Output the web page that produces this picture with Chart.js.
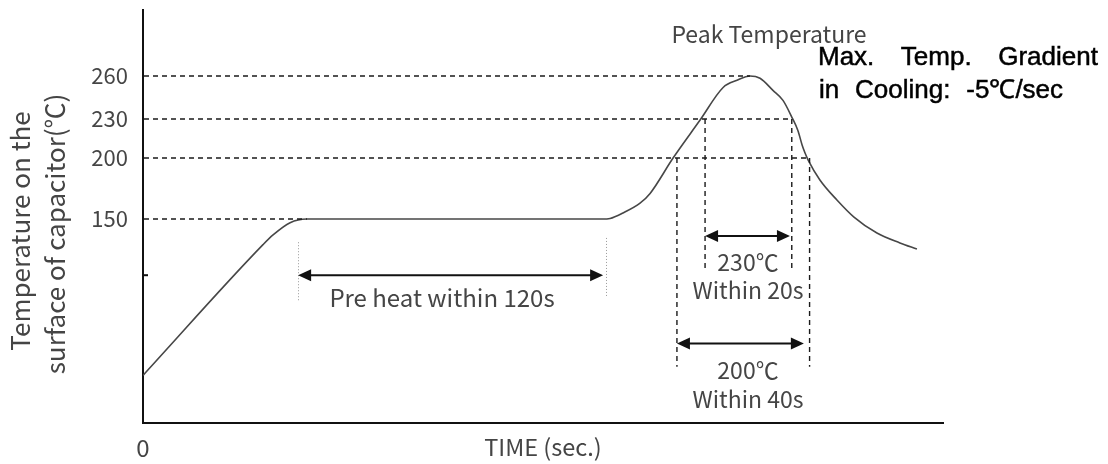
<!DOCTYPE html>
<html>
<head>
<meta charset="utf-8">
<script src="https://cdn.jsdelivr.net/npm/chart.js@4.4.1/dist/chart.umd.min.js"></script>
<style>
html,body{margin:0;padding:0;background:#fff;overflow:hidden}
canvas{display:block}
</style>
</head>
<body>
<canvas id="c" width="1108" height="464"></canvas>
<script>
// ---- reflow profile (time in s, temperature in °C) ----
const times = [0, 46.5, 50.4, 57, 63.5, 178, 181, 186, 192.6, 196.5, 205.4, 215.8, 224.8, 230.2, 235.2, 239.1, 244.1, 248.0, 251.5, 253.8, 255.4, 256.5, 257.7, 262.3, 268.9, 275.5, 284.4, 293.3, 299.9];
const temps = [22, 129, 137, 147, 150, 150, 150.5, 155, 163, 171, 200, 229, 252, 257, 260, 258.4, 250, 243, 231, 221, 210, 204, 198.5, 182, 165.6, 151.6, 138.5, 130.4, 125.4];

// ---- axis ticks ----
const yTickValues = [150, 200, 230, 260];
const xTickValues = [0];
const minorTickTemp = [104];

// ---- axis break (the temperature axis of the picture is not uniform) ----
const axisBreakValues = [-17, 150, 200, 230, 260, 306];
const axisBreakFractions = [0, 0.4939, 0.6416, 0.7361, 0.8402, 1];

// ---- reference levels: dashed lines from the axis to the curve ----
const refTemps = [150, 200, 230, 260];
const refEndTimes = [63.5, 258.3, 251.4, 235.2];

// ---- time windows (vertical dashed lines) ----
const win230Times = [217.8, 251.4];
const win230Bottom = 108;
const win200Times = [206.9, 258.3];
const win200Bottom = 29;

// ---- arrows: preheat, 230 window, 200 window ----
const arrowFrom = [60.1, 217.8, 206.9];
const arrowTo = [178.3, 250.7, 256.1];
const arrowTemp = [104, 136, 48];

// ---- dotted preheat limits ----
const preheatTimes = [60.1, 179.4];
const preheatTop = [131, 134.5];
const preheatBottom = [82, 86];

// ---- texts ----
const yTitleLines = ['Temperature on the', 'surface of capacitor(℃)'];
const xTitle = 'TIME (sec.)';
const peakLabel = 'Peak Temperature';
const preheatLabel = 'Pre heat within 120s';
const win230Labels = ['230℃', 'Within 20s'];
const win200Labels = ['200℃', 'Within 40s'];
const noteLines = ['Max. Temp. Gradient', 'in Cooling: -5℃/sec'];

const FONT = "'Noto Sans CJK KR', 'Noto Sans', sans-serif";
const TXT = '#454545';

function valueToDecimal(v) {
  const a = axisBreakValues, f = axisBreakFractions;
  let i = 0;
  if (v <= a[0]) i = 0;
  else if (v >= a[a.length - 1]) i = a.length - 2;
  else { while (i < a.length - 2 && v > a[i + 1]) i++; }
  return f[i] + (v - a[i]) / (a[i + 1] - a[i]) * (f[i + 1] - f[i]);
}
function decimalToValue(d) {
  const a = axisBreakValues, f = axisBreakFractions;
  let i = 0;
  while (i < f.length - 2 && d > f[i + 1]) i++;
  return a[i] + (d - f[i]) / (f[i + 1] - f[i]) * (a[i + 1] - a[i]);
}

class PiecewiseScale extends Chart.LinearScale {
  getPixelForValue(value) { return this.getPixelForDecimal(valueToDecimal(value)); }
  getValueForPixel(pixel) { return decimalToValue(this.getDecimalForPixel(pixel)); }
}
PiecewiseScale.id = 'piecewise';
PiecewiseScale.defaults = Chart.LinearScale.defaults;
Chart.register(PiecewiseScale);

const points = times.map((t, i) => ({x: t, y: temps[i]}));

function seg(ctx, x1, y1, x2, y2) {
  ctx.beginPath(); ctx.moveTo(x1, y1); ctx.lineTo(x2, y2); ctx.stroke();
}
function arrow(ctx, x1, x2, y) {
  const L = 13, H = 6;
  ctx.setLineDash([]);
  ctx.lineWidth = 2;
  ctx.strokeStyle = '#111';
  seg(ctx, x1 + L - 1, y, x2 - L + 1, y);
  ctx.fillStyle = '#111';
  ctx.beginPath(); ctx.moveTo(x1, y); ctx.lineTo(x1 + L, y - H); ctx.lineTo(x1 + L, y + H); ctx.closePath(); ctx.fill();
  ctx.beginPath(); ctx.moveTo(x2, y); ctx.lineTo(x2 - L, y - H); ctx.lineTo(x2 - L, y + H); ctx.closePath(); ctx.fill();
}

const annotations = {
  id: 'annotations',
  afterDatasetsDraw(chart) {
    const {ctx, chartArea: ca, scales} = chart;
    const X = v => scales.x.getPixelForValue(v);
    const Y = v => scales.y.getPixelForValue(v);
    ctx.save();
    // horizontal dashed reference lines
    ctx.strokeStyle = '#1a1a1a';
    ctx.lineWidth = 1.4;
    ctx.setLineDash([5, 4]);
    refTemps.forEach((T, i) => seg(ctx, ca.left + 1, Y(T), X(refEndTimes[i]), Y(T)));
    // vertical dashed window lines
    win230Times.forEach(t => seg(ctx, X(t), Y(230), X(t), Y(win230Bottom)));
    win200Times.forEach(t => seg(ctx, X(t), Y(200), X(t), Y(win200Bottom)));
    // dotted preheat limits
    ctx.strokeStyle = '#9a9a9a';
    ctx.lineWidth = 1;
    ctx.setLineDash([1, 2]);
    preheatTimes.forEach((t, i) => seg(ctx, Math.round(X(t)) + 0.5, Y(preheatTop[i]), Math.round(X(t)) + 0.5, Y(preheatBottom[i])));
    // minor tick mark on the axis
    ctx.setLineDash([]);
    ctx.strokeStyle = '#111';
    ctx.lineWidth = 2;
    minorTickTemp.forEach(T => seg(ctx, ca.left, Y(T), ca.left + 5, Y(T)));
    // arrows
    arrowFrom.forEach((t, i) => arrow(ctx, X(t), X(arrowTo[i]), Y(arrowTemp[i])));

    // texts
    ctx.fillStyle = TXT;
    ctx.textBaseline = 'alphabetic';
    ctx.textAlign = 'center';
    ctx.font = '24px ' + FONT;
    ctx.fillText(preheatLabel, 442, 307);
    ctx.font = '23px ' + FONT;
    ctx.fillText(win230Labels[0], 748, 271);
    ctx.fillText(win230Labels[1], 748, 299);
    ctx.fillText(win200Labels[0], 748, 379);
    ctx.fillText(win200Labels[1], 748, 408);
    ctx.fillText(peakLabel, 769, 43);

    // y axis title (rotated)
    ctx.font = '26px ' + FONT;
    ctx.save(); ctx.translate(30, 231); ctx.rotate(-Math.PI / 2);
    ctx.fillText(yTitleLines[0], 0, 0); ctx.restore();
    ctx.save(); ctx.translate(65, 234); ctx.rotate(-Math.PI / 2);
    ctx.fillText(yTitleLines[1], 0, 0); ctx.restore();

    // note at the top right
    ctx.fillStyle = '#000';
    ctx.strokeStyle = '#000';
    ctx.lineWidth = 0.5;
    ctx.textAlign = 'left';
    ctx.font = "26px 'Liberation Sans', Arial, sans-serif";
    const targets = [[818, 65, 280], [819, 98, 244]];
    noteLines.forEach((s, i) => {
      ctx.wordSpacing = '0px';
      const w = ctx.measureText(s).width;
      const gaps = s.split(' ').length - 1;
      const extra = Math.max(0, (targets[i][2] - w) / gaps);
      ctx.wordSpacing = extra.toFixed(1) + 'px';
      ctx.fillText(s, targets[i][0], targets[i][1]);
      ctx.strokeText(s, targets[i][0], targets[i][1]);
    });
    ctx.wordSpacing = '0px';
    ctx.restore();
  }
};

new Chart(document.getElementById('c'), {
  type: 'line',
  data: {
    datasets: [{
      data: points,
      borderColor: '#474747',
      borderWidth: 1.6,
      pointRadius: 0,
      fill: false,
      cubicInterpolationMode: 'monotone'
    }]
  },
  options: {
    responsive: false,
    animation: false,
    devicePixelRatio: 1,
    layout: {padding: {top: 10, right: 165, left: 0, bottom: 0}},
    plugins: {legend: {display: false}, tooltip: {enabled: false}, title: {display: false}},
    scales: {
      x: {
        type: 'linear',
        position: 'bottom',
        min: 0, max: 310,
        afterBuildTicks: s => { s.ticks = xTickValues.map(v => ({value: v})); },
        afterFit: s => { s.height = 41; s.paddingLeft = 0; s.paddingRight = 0; },
        grid: {display: false, drawTicks: false},
        border: {display: true, color: '#111', width: 2},
        ticks: {color: TXT, font: {family: FONT, size: 24}, padding: 10, maxRotation: 0, callback: v => String(v)},
        title: {display: true, text: xTitle, color: TXT, font: {family: FONT, size: 23.5}, padding: {top: 0, bottom: 3}}
      },
      y: {
        type: 'piecewise',
        min: -17, max: 306,
        afterBuildTicks: s => { s.ticks = yTickValues.map(v => ({value: v})); },
        afterFit: s => { s.width = 143; s.paddingTop = 0; s.paddingBottom = 0; },
        grid: {display: false, drawTicks: false},
        border: {display: true, color: '#111', width: 2},
        ticks: {color: TXT, font: {family: FONT, size: 22}, padding: 15, callback: v => String(v)}
      }
    }
  },
  plugins: [annotations]
});
</script>
</body>
</html>
